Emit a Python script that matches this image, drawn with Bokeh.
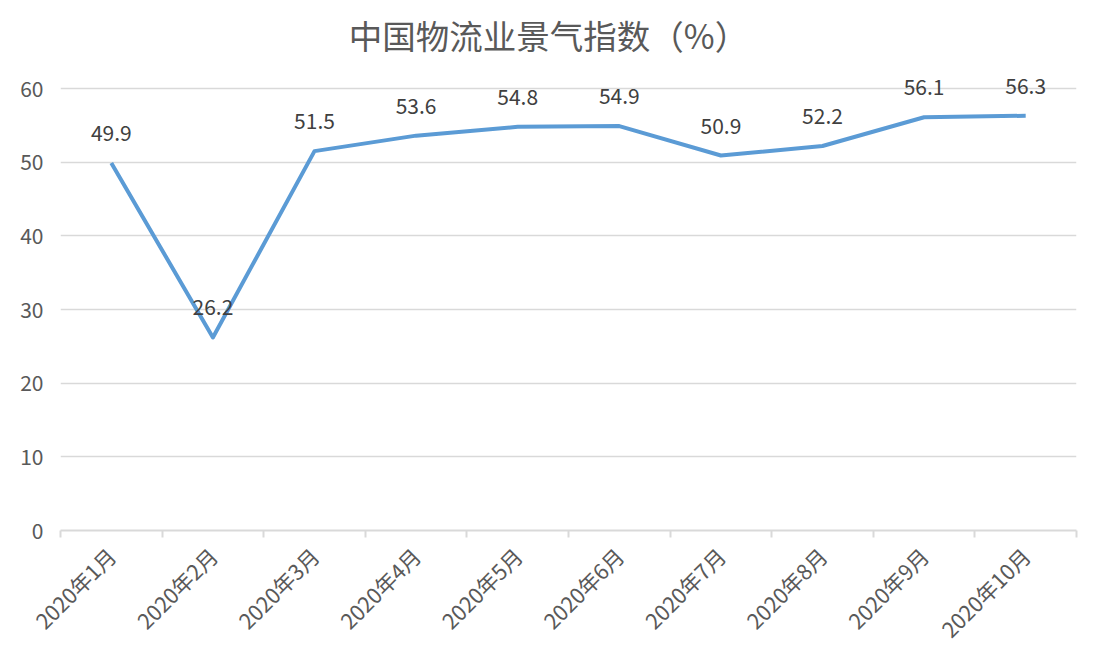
import numpy as np
from bokeh.plotting import figure
from bokeh.models import ColumnDataSource, Range1d, FixedTicker, Label
from bokeh.core.properties import value
from bokeh.embed import file_html
from bokeh.resources import INLINE

months = ["2020年1月", "2020年2月", "2020年3月", "2020年4月", "2020年5月",
          "2020年6月", "2020年7月", "2020年8月", "2020年9月", "2020年10月"]
index_values = [49.9, 26.2, 51.5, 53.6, 54.8, 54.9, 50.9, 52.2, 56.1, 56.3]
y_ticks = [0, 10, 20, 30, 40, 50, 60]
title_text = "中国物流业景气指数（%）"

FONT = "Noto Sans CJK SC"
n = len(months)
xs = [i + 0.5 for i in range(n)]

# plot frame extends above the 60 gridline so that labels and title fit
GRID_H = 442          # pixel height of the 0..60 band
FRAME_H = 522
y_top = max(y_ticks) * FRAME_H / GRID_H

src = ColumnDataSource(dict(x=xs, y=index_values,
                            lbl=[f"{v:.1f}" for v in index_values]))

p = figure(output_backend="svg", toolbar_location=None,
           frame_width=1016, frame_height=FRAME_H,
           min_border_left=60, min_border_right=15,
           min_border_top=8, min_border_bottom=130,
           x_range=Range1d(0, n), y_range=Range1d(0, y_top),
           background_fill_color="white", border_fill_color="white")
p.outline_line_color = None

# x axis
xa = p.xaxis[0]
xa.ticker = FixedTicker(ticks=xs, minor_ticks=list(range(n + 1)))
xa.major_label_overrides = {x: m for x, m in zip(xs, months)}
xa.major_label_orientation = np.pi / 4
xa.major_tick_line_color = None
xa.minor_tick_line_color = "#d9d9d9"
xa.minor_tick_line_width = 2
xa.minor_tick_in = 0
xa.minor_tick_out = 7
xa.axis_line_color = "#d9d9d9"
xa.axis_line_width = 2
xa.major_label_text_font = FONT
xa.major_label_text_font_size = "21.5px"
xa.major_label_text_color = "#595959"
xa.major_label_standoff = 14

# y axis
ya = p.yaxis[0]
ya.ticker = FixedTicker(ticks=y_ticks)
ya.axis_line_color = None
ya.major_tick_line_color = None
ya.minor_tick_line_color = None
ya.major_label_text_font = FONT
ya.major_label_text_font_size = "21px"
ya.major_label_text_color = "#595959"
ya.major_label_standoff = 11

p.xgrid.grid_line_color = None
p.ygrid.ticker = FixedTicker(ticks=y_ticks)
p.ygrid.grid_line_color = "#d9d9d9"
p.ygrid.grid_line_width = 1.5

p.line("x", "y", source=src, line_color="#5b9bd5", line_width=4,
       line_join="round")
p.text("x", "y", text="lbl", source=src, y_offset=-30,
       text_align="center", text_baseline="middle",
       text_font=value(FONT), text_font_size="21px", text_color="#404040")

title = Label(x=n / 2, y=max(y_ticks), x_offset=-20, y_offset=54,
              text=title_text, text_align="center", text_baseline="middle",
              text_font=FONT, text_font_size="33.5px", text_color="#595959")
p.add_layout(title)

open("out.html", "w").write(file_html(p, INLINE))
